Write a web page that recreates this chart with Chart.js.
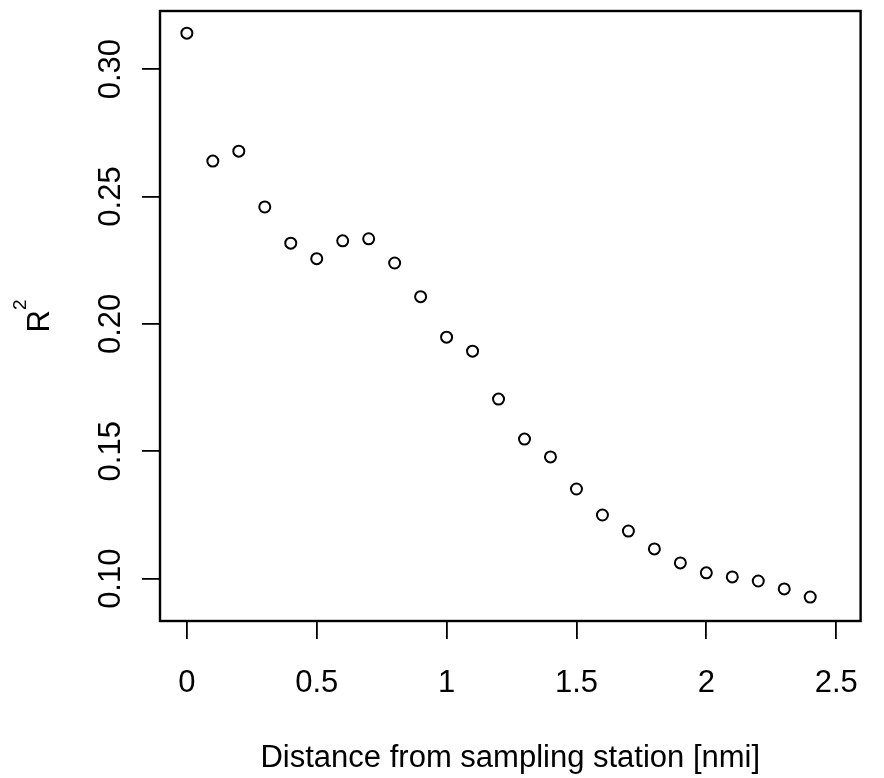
<!DOCTYPE html>
<html>
<head>
<meta charset="utf-8">
<script src="https://cdn.jsdelivr.net/npm/chart.js@4/dist/chart.umd.min.js"></script>
<style>
  html, body { margin: 0; padding: 0; background: #ffffff; }
  #wrap { width: 884px; height: 778px; }
</style>
</head>
<body>
<div id="wrap"><canvas id="c" width="884" height="778"></canvas></div>
<script>
// ---- data ----
const distances = [0, 0.1, 0.2, 0.3, 0.4, 0.5, 0.6, 0.7, 0.8, 0.9, 1.0, 1.1, 1.2,
                   1.3, 1.4, 1.5, 1.6, 1.7, 1.8, 1.9, 2.0, 2.1, 2.2, 2.3, 2.4];
const r2Values = [0.3141, 0.2639, 0.2678, 0.2459, 0.2317, 0.2256, 0.2326, 0.2334, 0.2239,
                  0.2107, 0.1948, 0.1893, 0.1705, 0.1548, 0.1478, 0.1352, 0.1250, 0.1187,
                  0.1117, 0.1062, 0.1023, 0.1007, 0.0991, 0.0960, 0.0928];
const xTicks = [0, 0.5, 1, 1.5, 2, 2.5];
const xTickLabels = ['0', '0.5', '1', '1.5', '2', '2.5'];
const yTicks = [0.10, 0.15, 0.20, 0.25, 0.30];
const yTickLabels = ['0.10', '0.15', '0.20', '0.25', '0.30'];
const xTitle = 'Distance from sampling station [nmi]';
const yTitleMain = 'R';
const yTitleSup = '2';

const FONT = '"Liberation Sans", Arial, Helvetica, sans-serif';

const points = distances.map((d, i) => ({ x: d, y: r2Values[i] }));

const rStylePlugin = {
  id: 'rStyle',
  afterDraw(chart) {
    const ctx = chart.ctx;
    const a = chart.chartArea;
    const ys = chart.scales.y;
    ctx.save();
    // plot box
    ctx.strokeStyle = '#000';
    ctx.lineWidth = 2.4;
    ctx.strokeRect(a.left, a.top, a.right - a.left, a.bottom - a.top);
    // y tick labels (rotated, reading bottom to top)
    ctx.fillStyle = '#000';
    ctx.font = '31px ' + FONT;
    ctx.textAlign = 'center';
    ctx.textBaseline = 'alphabetic';
    yTicks.forEach((v, i) => {
      const py = ys.getPixelForValue(v);
      ctx.save();
      ctx.translate(120, py);
      ctx.rotate(-Math.PI / 2);
      ctx.fillText(yTickLabels[i], 0, 0);
      ctx.restore();
    });
    // y title R^2
    const cy = (a.top + a.bottom) / 2;
    ctx.font = '31px ' + FONT;
    const wR = ctx.measureText(yTitleMain).width;
    ctx.font = '19px ' + FONT;
    const w2 = ctx.measureText(yTitleSup).width;
    const total = wR + w2;
    ctx.save();
    ctx.translate(48.5, cy);
    ctx.rotate(-Math.PI / 2);
    ctx.textAlign = 'left';
    ctx.font = '31px ' + FONT;
    ctx.fillText(yTitleMain, -total / 2, 0);
    ctx.font = '19px ' + FONT;
    ctx.fillText(yTitleSup, -total / 2 + wR, -23);
    ctx.restore();
    ctx.restore();
  }
};

new Chart(document.getElementById('c'), {
  type: 'scatter',
  data: {
    datasets: [{
      data: points,
      pointStyle: 'circle',
      pointRadius: 5.5,
      pointHoverRadius: 5.5,
      pointBorderWidth: 2,
      pointBorderColor: '#000',
      pointBackgroundColor: 'rgba(0,0,0,0)',
      showLine: false
    }]
  },
  options: {
    responsive: false,
    animation: false,
    devicePixelRatio: 1,
    layout: { padding: { left: 0, right: 1, top: 11, bottom: 0 } },
    plugins: { legend: { display: false }, tooltip: { enabled: false } },
    scales: {
      x: {
        type: 'linear',
        min: -0.1034,
        max: 2.594,
        afterBuildTicks: s => { s.ticks = xTicks.map(v => ({ value: v })); },
        afterFit: s => { s.height = 157; },
        ticks: {
          callback: (v, i) => xTickLabels[i],
          font: { family: FONT, size: 31 },
          color: '#000',
          padding: 26,
          maxRotation: 0,
          minRotation: 0,
          autoSkip: false
        },
        grid: {
          drawOnChartArea: false,
          drawTicks: true,
          tickLength: 18,
          color: '#000',
          lineWidth: 1.8
        },
        border: { display: false },
        title: {
          display: true,
          text: xTitle,
          font: { family: FONT, size: 31 },
          color: '#000',
          padding: { top: 0, bottom: 1 }
        }
      },
      y: {
        type: 'linear',
        min: 0.0834,
        max: 0.3228,
        afterBuildTicks: s => { s.ticks = yTicks.map(v => ({ value: v })); },
        afterFit: s => { s.width = 160; },
        ticks: { display: false },
        grid: {
          drawOnChartArea: false,
          drawTicks: true,
          tickLength: 18,
          color: '#000',
          lineWidth: 1.8
        },
        border: { display: false }
      }
    }
  },
  plugins: [rStylePlugin]
});
</script>
</body>
</html>
